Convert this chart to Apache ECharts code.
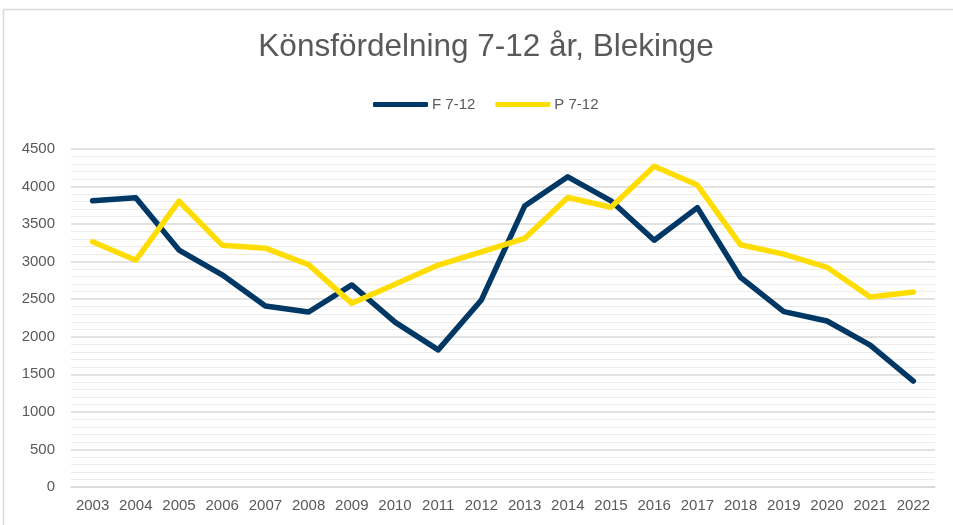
<!DOCTYPE html>
<html>
<head>
<meta charset="utf-8">
<script src="https://cdn.jsdelivr.net/npm/echarts@6/dist/echarts.min.js"></script>
<style>html,body{margin:0;padding:0;background:#fff;}#c{width:953px;height:525px;}</style>
</head>
<body>
<div id="c"></div>
<script>
const years = ['2003','2004','2005','2006','2007','2008','2009','2010','2011','2012','2013','2014','2015','2016','2017','2018','2019','2020','2021','2022'];
const seriesF = [3810, 3850, 3155, 2825, 2410, 2330, 2690, 2195, 1825, 2490, 3740, 4130, 3810, 3285, 3720, 2790, 2335, 2210, 1890, 1410];
const seriesP = [3265, 3020, 3805, 3220, 3180, 2960, 2445, 2700, 2955, 3130, 3310, 3855, 3725, 4270, 4020, 3225, 3100, 2925, 2530, 2595];
const seriesNames = ['F 7-12', 'P 7-12'];
const titleText = 'Könsfördelning 7-12 år, Blekinge';

const chart = echarts.init(document.getElementById('c'), null, {renderer: 'canvas'});
const font = '"Liberation Sans", Arial, sans-serif';
chart.setOption({
  backgroundColor: '#ffffff',
  animation: false,
  graphic: [
    {type: 'line', shape: {x1: 3.5, y1: 9.5, x2: 953, y2: 9.5}, style: {stroke: '#d9d9d9', lineWidth: 1.5}, silent: true},
    {type: 'line', shape: {x1: 3.5, y1: 9.5, x2: 3.5, y2: 525}, style: {stroke: '#d9d9d9', lineWidth: 1.5}, silent: true}
  ],
  title: {
    text: titleText,
    left: 481, top: 26, textAlign: 'center',
    textStyle: {fontFamily: font, fontSize: 31.5, fontWeight: 'normal', color: '#595959'}
  },
  legend: {
    top: 92, left: 368,
    itemWidth: 55, itemHeight: 5, itemGap: 20,
    icon: 'roundRect',
    textStyle: {fontFamily: font, fontSize: 15, color: '#595959', padding: [0, 0, 0, -1]},
    data: seriesNames
  },
  grid: {left: 71, right: 18, top: 149, bottom: 38, containLabel: false},
  xAxis: {
    type: 'category', data: years, boundaryGap: true,
    axisLine: {show: true, lineStyle: {color: '#d9d9d9', width: 1.5}},
    axisTick: {show: false},
    axisLabel: {fontFamily: font, fontSize: 15, color: '#595959', margin: 11, interval: 0}
  },
  yAxis: {
    type: 'value', min: 0, max: 4500, interval: 500,
    axisLine: {show: false}, axisTick: {show: false},
    axisLabel: {fontFamily: font, fontSize: 15, color: '#595959', margin: 16, formatter: function (v) { return String(v); }},
    splitLine: {lineStyle: {color: '#d9d9d9', width: 1.5}},
    minorTick: {show: false, splitNumber: 5},
    minorSplitLine: {show: true, lineStyle: {color: '#ececec', width: 1}}
  },
  series: [
    {name: seriesNames[0], type: 'line', data: seriesF, symbol: 'none', color: '#003865',
     lineStyle: {width: 5.5, color: '#003865', cap: 'round', join: 'round'}},
    {name: seriesNames[1], type: 'line', data: seriesP, symbol: 'none', color: '#FFDD00',
     lineStyle: {width: 5.5, color: '#FFDD00', cap: 'round', join: 'round'}}
  ]
});
</script>
</body>
</html>
